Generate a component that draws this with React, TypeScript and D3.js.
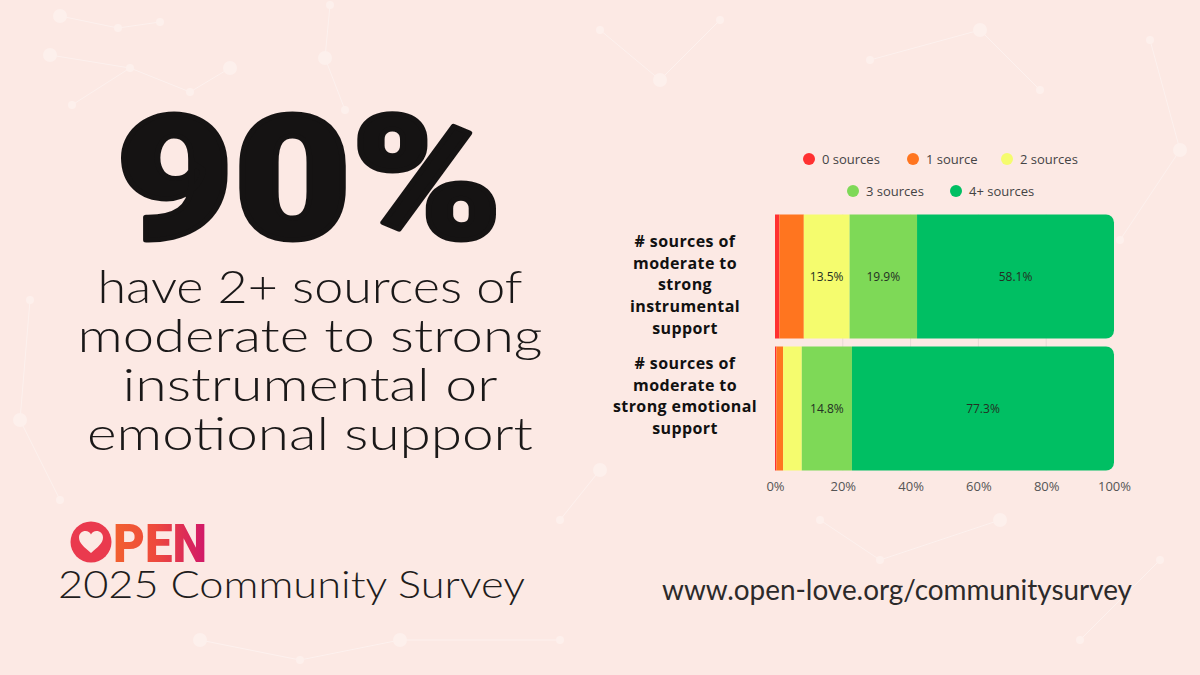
import { useEffect, useRef } from 'react';
import * as d3 from 'd3';

// chart data
const categories = ['instrumental', 'emotional'];
const categoryLines = [
  ['# sources of', 'moderate to', 'strong', 'instrumental', 'support'],
  ['# sources of', 'moderate to', 'strong emotional', 'support'],
];
const seriesNames = ['0 sources', '1 source', '2 sources', '3 sources', '4+ sources'];
const instrumentalValues = [1.3, 7.2, 13.5, 19.9, 58.1];
const emotionalValues = [0.4, 2.0, 5.5, 14.8, 77.3];
const tickValues = [0, 20, 40, 60, 80, 100];

const seriesColors = ['#ff3131', '#ff751f', '#f5fc6e', '#7ed957', '#00bf63'];

const headline = '90%';
const bodyLines = ['have 2+ sources of', 'moderate to strong', 'instrumental or', 'emotional support'];

export default function App() {
  const svgRef = useRef<SVGSVGElement>(null);

  useEffect(() => {
    if (!svgRef.current) return;
    const svg = d3.select(svgRef.current);
    svg.selectAll('*').remove();

    const width = 1200;
    const height = 675;
    const bg = '#fce9e4';

    svg.append('rect').attr('width', width).attr('height', height).attr('fill', bg);

    // faint constellation decoration
    const deco = svg.append('g').attr('stroke', '#fdf1ee').attr('fill', '#fdf0ec').attr('stroke-width', 1);
    const pts: [number, number][] = [
      [60, 16], [118, 28], [160, 22], [50, 55], [130, 68], [190, 92], [230, 68], [72, 105], [330, 5], [325, 58], [345, 110],
      [600, 30], [660, 80], [720, 20], [870, 60], [980, 30], [1040, 90], [1150, 40], [1180, 150], [1120, 240],
      [30, 300], [20, 420], [60, 500], [560, 520], [600, 470], [820, 520], [880, 560], [1000, 520], [1080, 640], [1160, 560],
      [400, 640], [300, 660], [560, 640], [200, 640],
    ];
    const links = [[0, 1], [1, 2], [3, 4], [4, 5], [5, 6], [4, 7], [8, 9], [9, 10], [11, 12], [12, 13], [14, 15], [15, 16], [17, 18], [18, 19], [20, 21], [21, 22], [23, 24], [25, 26], [26, 27], [28, 29], [30, 31], [30, 32], [31, 33]];
    links.forEach(([a, b]) => {
      deco.append('line').attr('x1', pts[a][0]).attr('y1', pts[a][1]).attr('x2', pts[b][0]).attr('y2', pts[b][1]);
    });
    pts.forEach((p, i) => {
      deco.append('circle').attr('cx', p[0]).attr('cy', p[1]).attr('r', i % 3 === 0 ? 7 : 4).attr('stroke', 'none');
    });

    // left headline
    svg.append('text')
      .attr('x', 116).attr('y', 238)
      .attr('textLength', 386).attr('lengthAdjust', 'spacingAndGlyphs')
      .style('font-family', 'Roboto, "DejaVu Sans", sans-serif')
      .style('font-weight', 900)
      .style('font-size', '172px')
      .attr('fill', '#151313')
      .attr('stroke', '#151313')
      .attr('stroke-width', 5)
      .attr('stroke-linejoin', 'round')
      .text(headline);

    const bodyWidths = [425, 465, 375, 446];
    bodyLines.forEach((line, i) => {
      svg.append('text')
        .attr('x', 310 - bodyWidths[i] / 2).attr('y', 303 + i * 49)
        .attr('textLength', bodyWidths[i]).attr('lengthAdjust', 'spacingAndGlyphs')
        .style('font-family', 'Lato, "Open Sans", sans-serif')
        .style('font-weight', 300)
        .style('font-size', '45px')
        .attr('fill', '#1a1818')
        .text(line);
    });

    // OPEN logo
    const defs = svg.append('defs');
    const grad = defs.append('linearGradient').attr('id', 'openGrad').attr('x1', '0%').attr('x2', '100%');
    grad.append('stop').attr('offset', '0%').attr('stop-color', '#f2612f');
    grad.append('stop').attr('offset', '45%').attr('stop-color', '#ee4a3d');
    grad.append('stop').attr('offset', '100%').attr('stop-color', '#d0176a');
    const logo = svg.append('g');
    logo.append('circle').attr('cx', 91).attr('cy', 542).attr('r', 20.5).attr('fill', '#ea3a4e');
    logo.append('path')
      .attr('d', 'M91,553 C84,547 79,543 79,537.5 C79,533.5 82,531 85.5,531 C88,531 90,532.5 91,534.5 C92,532.5 94,531 96.5,531 C100,531 103,533.5 103,537.5 C103,543 98,547 91,553 Z')
      .attr('fill', bg);
    logo.append('text')
      .attr('x', 113).attr('y', 562)
      .attr('textLength', 94).attr('lengthAdjust', 'spacingAndGlyphs')
      .style('font-family', 'Roboto, sans-serif')
      .style('font-weight', 900)
      .style('font-size', '54px')
      .attr('fill', 'url(#openGrad)')
      .text('PEN');

    svg.append('text')
      .attr('x', 58).attr('y', 598)
      .attr('textLength', 467).attr('lengthAdjust', 'spacingAndGlyphs')
      .style('font-family', 'Lato, "Open Sans", sans-serif')
      .style('font-weight', 300)
      .style('font-size', '38px')
      .attr('fill', '#1f1d1d')
      .text('2025 Community Survey');

    svg.append('text')
      .attr('x', 662).attr('y', 600)
      .attr('textLength', 470).attr('lengthAdjust', 'spacingAndGlyphs')
      .style('font-family', 'Lato, "Open Sans", sans-serif')
      .style('font-weight', 400)
      .style('font-size', '28px')
      .attr('fill', '#2c2a2a')
      .text('www.open-love.org/communitysurvey');

    // stacked bar chart
    const rows = categories.map((c, i) => {
      const vals = i === 0 ? instrumentalValues : emotionalValues;
      const row: Record<string, any> = { category: c };
      seriesNames.forEach((s, j) => { row[s] = vals[j]; });
      return row;
    });
    const stacked = d3.stack<Record<string, any>>().keys(seriesNames)(rows);

    const x = d3.scaleLinear().domain([0, 100]).range([775, 1114]);
    const y = d3.scaleBand().domain(categories).range([214.5, 470.5]).paddingInner(0.0606).paddingOuter(0);

    const g = svg.append('g');

    // faint gridlines
    g.selectAll('.grid')
      .data(tickValues.slice(1, -1))
      .enter().append('line')
      .attr('x1', d => x(d)).attr('x2', d => x(d))
      .attr('y1', y.range()[0]).attr('y2', y.range()[1])
      .attr('stroke', '#e9d9d5').attr('stroke-width', 1);

    const radius = 8;
    const segPath = (x0: number, x1: number, y0: number, h: number, round: boolean) => {
      if (!round) return `M${x0},${y0}H${x1}V${y0 + h}H${x0}Z`;
      const r = Math.min(radius, x1 - x0);
      return `M${x0},${y0}H${x1 - r}A${r},${r} 0 0 1 ${x1},${y0 + r}V${y0 + h - r}A${r},${r} 0 0 1 ${x1 - r},${y0 + h}H${x0}Z`;
    };

    stacked.forEach((layer, li) => {
      const isLast = li === stacked.length - 1;
      layer.forEach(seg => {
        const cat = seg.data.category as string;
        const x0 = x(seg[0]);
        const x1 = x(seg[1]);
        g.append('path')
          .attr('d', segPath(x0, x1, y(cat)!, y.bandwidth(), isLast))
          .attr('fill', seriesColors[li]);
        const v = seg[1] - seg[0];
        if (v >= 10) {
          g.append('text')
            .attr('x', (x0 + x1) / 2)
            .attr('y', y(cat)! + y.bandwidth() / 2)
            .attr('dy', '0.35em')
            .attr('text-anchor', 'middle')
            .style('font-family', '"Open Sans", sans-serif')
            .style('font-size', '12px')
            .attr('fill', '#243024')
            .text(`${v.toFixed(1)}%`);
        }
      });
    });

    // category labels
    const labelStarts = [247, 369];
    categories.forEach((c, i) => {
      const t = svg.append('text')
        .attr('text-anchor', 'middle')
        .style('font-family', '"Open Sans", sans-serif')
        .style('font-weight', 700)
        .style('font-size', '16px')
        .style('letter-spacing', '0.4px')
        .attr('fill', '#111');
      categoryLines[i].forEach((line, k) => {
        t.append('tspan').attr('x', 685).attr('y', labelStarts[i] + k * 21.7).text(line);
      });
    });

    // x axis
    const axis = svg.append('g')
      .attr('transform', `translate(0,${y.range()[1]})`)
      .call(d3.axisBottom(x).tickValues(tickValues).tickFormat(d => `${d}%`).tickSize(0).tickPadding(11));
    axis.select('.domain').remove();
    axis.selectAll('text')
      .style('font-family', '"Open Sans", sans-serif')
      .style('font-size', '13px')
      .attr('fill', '#555');

    // legend
    const legendPos: [number, number][] = [[809, 159], [913, 159], [1007, 159], [853, 191], [956, 191]];
    seriesNames.forEach((s, i) => {
      const [cx, cy] = legendPos[i];
      svg.append('circle').attr('cx', cx).attr('cy', cy).attr('r', 6).attr('fill', seriesColors[i]);
      svg.append('text')
        .attr('x', cx + 13).attr('y', cy).attr('dy', '0.35em')
        .style('font-family', '"Open Sans", sans-serif')
        .style('font-size', '13px')
        .attr('fill', '#444')
        .text(s);
    });
  }, []);

  return (
    <svg
      ref={svgRef}
      width={1200}
      height={675}
      style={{ position: 'fixed', left: 0, top: 0, display: 'block' }}
    />
  );
}
